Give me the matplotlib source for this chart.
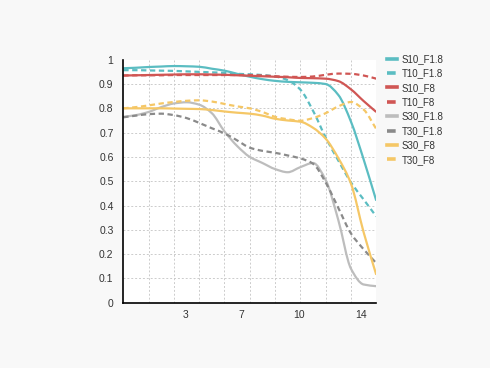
import matplotlib.pyplot as plt
from matplotlib.lines import Line2D
from matplotlib.patches import PathPatch
from matplotlib.path import Path
from matplotlib.ticker import FixedLocator, NullFormatter

# image height positions (grid spacing 1.5)
X = [0, 0.75, 1.5, 2.25, 3, 3.75, 4.5, 5.25, 6, 6.75, 7.5,
     8.25, 9, 9.75, 10.5, 11.25, 12, 12.75, 13.5, 14.25, 15]

S10_F18 = [0.965, 0.967, 0.970, 0.972, 0.974, 0.973, 0.971, 0.963, 0.955, 0.942, 0.930,
           0.920, 0.913, 0.909, 0.907, 0.905, 0.900, 0.855, 0.745, 0.590, 0.420]
T10_F18 = [0.957, 0.957, 0.956, 0.955, 0.954, 0.952, 0.950, 0.948, 0.946, 0.942, 0.940,
           0.937, 0.931, 0.916, 0.877, 0.790, 0.680, 0.585, 0.495, 0.425, 0.355]
S10_F8 = [0.935, 0.936, 0.937, 0.938, 0.939, 0.940, 0.940, 0.939, 0.938, 0.936, 0.934,
          0.932, 0.930, 0.928, 0.925, 0.924, 0.922, 0.912, 0.878, 0.830, 0.785]
T10_F8 = [0.935, 0.936, 0.936, 0.936, 0.937, 0.937, 0.937, 0.937, 0.937, 0.937, 0.937,
          0.935, 0.932, 0.930, 0.929, 0.931, 0.938, 0.943, 0.942, 0.935, 0.922]
S30_F18 = [0.765, 0.772, 0.785, 0.805, 0.820, 0.825, 0.815, 0.780, 0.705, 0.645, 0.600,
           0.575, 0.550, 0.537, 0.558, 0.575, 0.505, 0.340, 0.140, 0.075, 0.068]
T30_F18 = [0.763, 0.770, 0.776, 0.778, 0.772, 0.760, 0.740, 0.718, 0.697, 0.668, 0.638,
           0.625, 0.617, 0.606, 0.594, 0.572, 0.495, 0.390, 0.285, 0.220, 0.163]
S30_F8 = [0.800, 0.800, 0.800, 0.800, 0.799, 0.798, 0.797, 0.793, 0.787, 0.782, 0.778,
          0.770, 0.757, 0.750, 0.745, 0.720, 0.675, 0.595, 0.490, 0.290, 0.115]
T30_F8 = [0.800, 0.805, 0.812, 0.820, 0.826, 0.831, 0.833, 0.828, 0.818, 0.808, 0.800,
          0.785, 0.765, 0.755, 0.749, 0.760, 0.780, 0.808, 0.826, 0.795, 0.715]

XTICK_POS = [3.7, 7.0, 10.4, 14.1]
XTICK_LABELS = ["3", "7", "10", "14"]
YTICKS = [0, 0.1, 0.2, 0.3, 0.4, 0.5, 0.6, 0.7, 0.8, 0.9, 1]
YTICK_LABELS = ["0", "0.1", "0.2", "0.3", "0.4", "0.5", "0.6", "0.7", "0.8", "0.9", "1"]

TEAL = "#5bbdc2"
RED = "#d05654"
LIGHT_GRAY = "#bdbdbd"
DARK_GRAY = "#8a8a8a"
YELLOW = "#f5c766"
DASH = (0, (2.4, 1.6))

SERIES = [
    ("S10_F1.8", S10_F18, TEAL, "-"),
    ("T10_F1.8", T10_F18, TEAL, DASH),
    ("S10_F8", S10_F8, RED, "-"),
    ("T10_F8", T10_F8, RED, DASH),
    ("S30_F1.8", S30_F18, LIGHT_GRAY, "-"),
    ("T30_F1.8", T30_F18, DARK_GRAY, DASH),
    ("S30_F8", S30_F8, YELLOW, "-"),
    ("T30_F8", T30_F8, YELLOW, DASH),
]


def smooth_path(xs, ys):
    """Bezier path through the points, monotone (no overshoot) tangents."""
    n = len(xs)
    d = [(ys[i + 1] - ys[i]) / (xs[i + 1] - xs[i]) for i in range(n - 1)]
    m = [d[0]] + [0.0] * (n - 2) + [d[-1]]
    for i in range(1, n - 1):
        if d[i - 1] * d[i] > 0:
            m[i] = 2 / (1 / d[i - 1] + 1 / d[i])
    verts = [(xs[0], ys[0])]
    codes = [Path.MOVETO]
    for i in range(n - 1):
        h = xs[i + 1] - xs[i]
        verts += [(xs[i] + h / 3, ys[i] + m[i] * h / 3),
                  (xs[i + 1] - h / 3, ys[i + 1] - m[i + 1] * h / 3),
                  (xs[i + 1], ys[i + 1])]
        codes += [Path.CURVE4] * 3
    return Path(verts, codes)


plt.rcParams["font.family"] = ["Liberation Sans", "DejaVu Sans"]

fig = plt.figure(figsize=(4.9, 3.68), dpi=100, facecolor="#f8f8f8")
ax = fig.add_axes([0.2516, 0.1774, 0.5163, 0.6603])
ax.set_facecolor("white")

handles = []
for name, values, color, style in SERIES:
    ax.add_patch(PathPatch(smooth_path(X, values), fill=False, edgecolor=color,
                           linestyle=style, linewidth=1.6, capstyle="butt"))
    handles.append(Line2D([], [], color=color, linestyle=style, linewidth=2.6))

ax.set_xlim(0, 15)
ax.set_ylim(0, 1)

ax.set_xticks(XTICK_POS)
ax.set_xticklabels(XTICK_LABELS)
ax.xaxis.set_minor_locator(FixedLocator([1.5 * i for i in range(1, 11)]))
ax.xaxis.set_minor_formatter(NullFormatter())
ax.set_yticks(YTICKS)
ax.set_yticklabels(YTICK_LABELS)

ax.tick_params(axis="both", which="both", length=0, labelsize=7.5, colors="#333333")
ax.tick_params(axis="y", pad=7)
ax.tick_params(axis="x", pad=5)

ax.grid(True, axis="x", which="minor", color="#cccccc", linestyle=(0, (2, 2)), linewidth=0.7)
ax.grid(True, axis="y", which="major", color="#cccccc", linestyle=(0, (2, 2)), linewidth=0.7)
ax.yaxis.get_gridlines()[-1].set_visible(False)
ax.set_axisbelow(True)

for side in ("top", "right"):
    ax.spines[side].set_visible(False)
for side in ("left", "bottom"):
    ax.spines[side].set_color("black")
    ax.spines[side].set_linewidth(1.2)

fig.legend(handles, [s[0] for s in SERIES], loc="upper left",
           bbox_to_anchor=(0.79, 0.853), frameon=False,
           fontsize=7, handlelength=1.0, handletextpad=0.5, labelspacing=0.45,
           borderpad=0, borderaxespad=0, labelcolor="#333333")

fig.savefig("out.png", dpi=100, facecolor=fig.get_facecolor())
